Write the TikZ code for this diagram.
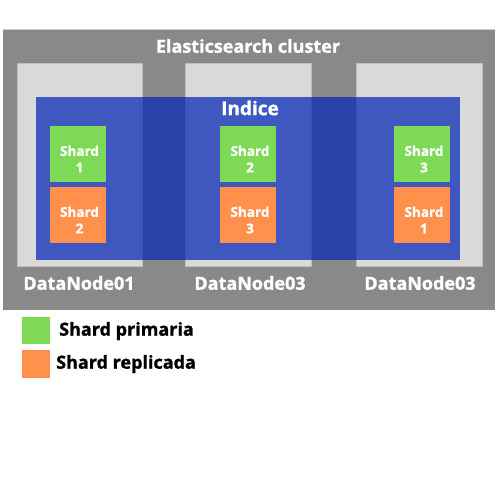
\documentclass[tikz,border=0pt]{standalone}
\usepackage{fontspec}
\setmainfont{Open Sans}[BoldFeatures={FakeBold=1.2}]

\definecolor{clustergray}{HTML}{898989}
\definecolor{nodegray}{HTML}{D9D9D9}
\definecolor{indiceblue}{RGB}{10,43,182}
\definecolor{primgreen}{HTML}{7ED957}
\definecolor{replorange}{HTML}{FF914D}

\begin{document}
\begin{tikzpicture}[x=1pt,y=-1pt,
    shardtext/.style={text=white,align=center,inner sep=0pt,xshift=2pt,yshift=-5pt,
      font=\bfseries\fontsize{13.5}{16.5}\selectfont},
    shard/.style={minimum width=56pt,minimum height=56pt,inner sep=0pt,
      label={[shardtext]center:{Shard\\#1}}},
    whitelabel/.style={text=white,inner sep=0pt,font=\bfseries\fontsize{18}{20}\selectfont},
    legendlabel/.style={text=black,inner sep=0pt,anchor=west,font=\bfseries\fontsize{18}{20}\selectfont}]
      \useasboundingbox (0,0) rectangle (500,500);

      % Draw the cluster
      \fill[clustergray] (3,29) rectangle (495,310);
      \draw[gray!40,line width=0.8pt] (3,29.4) -- (495,29.4);
      \node[whitelabel] (cluster) at (248,46) {Elasticsearch cluster};

      % Draw the data nodes
      \filldraw[fill=nodegray,draw=gray!50] (17,63) rectangle (142,266);
      \filldraw[fill=nodegray,draw=gray!50] (185,63) rectangle (311,266);
      \filldraw[fill=nodegray,draw=gray!50] (356,63) rectangle (482,266);

      % Draw the index
      \fill[indiceblue,opacity=0.74] (36,97) rectangle (460,260);
      \node[whitelabel,font=\bfseries\fontsize{19}{20}\selectfont] (indice) at (250,108) {Indice};

      % Draw the shards
      \node[shard=1,fill=primgreen] (s1) at (77.5,154) {};
      \node[shard=2,fill=replorange] (r2) at (77.5,215) {};
      \node[shard=2,fill=primgreen] (s2) at (248,154) {};
      \node[shard=3,fill=replorange] (r3) at (248,215) {};
      \node[shard=3,fill=primgreen] (s3) at (422,154) {};
      \node[shard=1,fill=replorange] (r1) at (422,215) {};

      % Data node labels
      \node[whitelabel] (dn1) at (79,283) {DataNode01};
      \node[whitelabel] (dn2) at (250,283) {DataNode03};
      \node[whitelabel] (dn3) at (420,283) {DataNode03};

      % Draw legend
      \fill[primgreen] (22,317) rectangle (50,344);
      \fill[replorange] (22,350) rectangle (50,378);
      \node[legendlabel] (prim) at (59,331) {Shard primaria};
      \node[legendlabel] (repl) at (56,364) {Shard replicada};
\end{tikzpicture}
\end{document}
